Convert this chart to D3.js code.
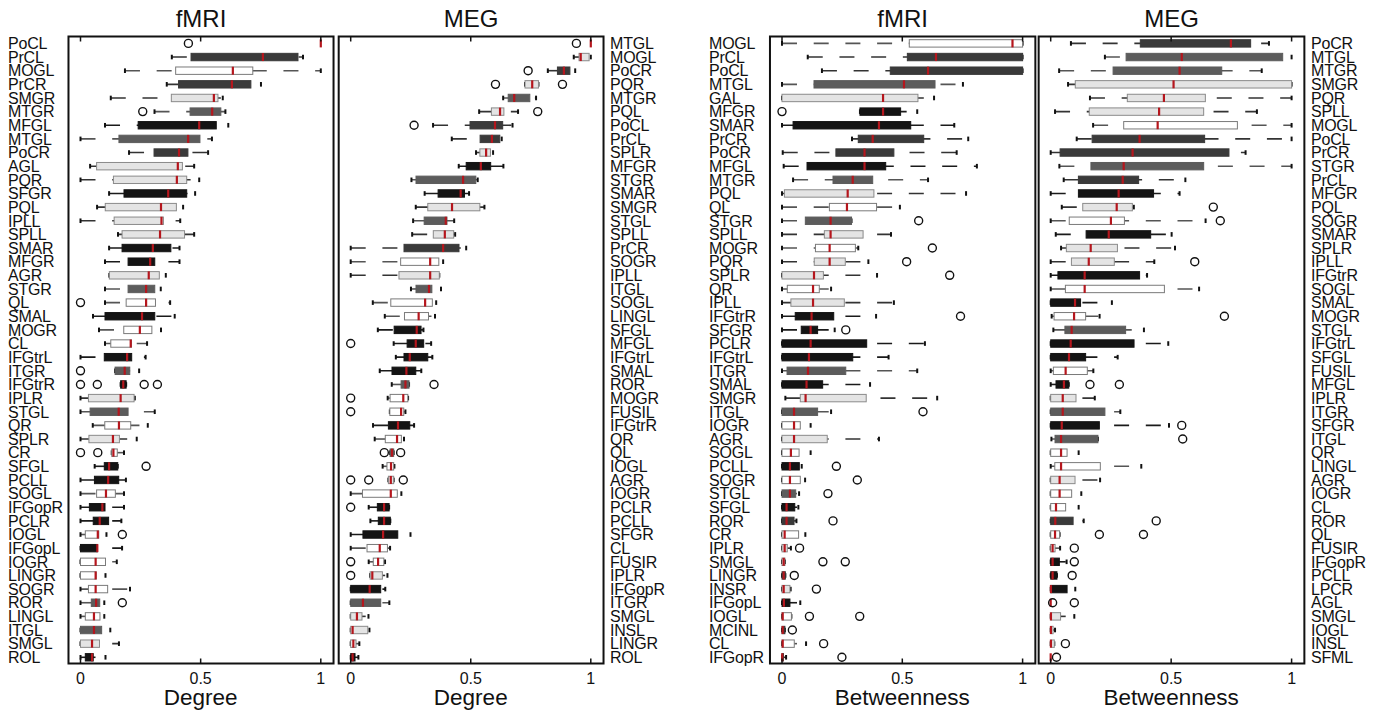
<!DOCTYPE html>
<html><head><meta charset="utf-8">
<script src="https://cdn.jsdelivr.net/npm/d3@7"></script>
<style>body{margin:0;background:#fff}text{font-family:"Liberation Sans",Arial,sans-serif;fill:#111}</style>
</head><body>
<svg id="c" width="1383" height="712"></svg>
<script>
// ---------- DATA ----------
const xTicks = [0, 0.5, 1];
const xTickLabels = ["0", "0.5", "1"];
const panelTitles = ["fMRI", "MEG", "fMRI", "MEG"];
const axisTitles = ["Degree", "Degree", "Betweenness", "Betweenness"];

// stats rows: [lower whisker, q1, median, q3, upper whisker]
const p1Labels = ["PoCL","PrCL","MOGL","PrCR","SMGR","MTGR","MFGL","MTGL","PoCR","AGL","PQR","SFGR","PQL","IPLL","SPLL","SMAR","MFGR","AGR","STGR","QL","SMAL","MOGR","CL","IFGtrL","ITGR","IFGtrR","IPLR","STGL","QR","SPLR","CR","SFGL","PCLL","SOGL","IFGopR","PCLR","IOGL","IFGopL","IOGR","LINGR","SOGR","ROR","LINGL","ITGL","SMGL","ROL"];
const p1Stats = [[1,1,1,1,1],[0.380,0.460,0.759,0.905,0.926],[0.185,0.396,0.634,0.717,1.0],[0.359,0.408,0.630,0.709,0.751],[0.126,0.378,0.555,0.572,0.592],[0.308,0.456,0.548,0.584,0.603],[0.102,0.240,0.494,0.565,0.615],[0.0,0.160,0.448,0.497,0.547],[0.202,0.306,0.410,0.447,0.531],[0.040,0.067,0.405,0.424,0.473],[0.0,0.137,0.401,0.442,0.494],[0.119,0.181,0.365,0.442,0.477],[0.069,0.103,0.335,0.399,0.427],[0.0,0.140,0.337,0.345,0.415],[0.156,0.173,0.331,0.433,0.473],[0.119,0.173,0.301,0.376,0.412],[0.102,0.198,0.290,0.309,0.412],[0.120,0.120,0.284,0.328,0.355],[0.102,0.198,0.273,0.309,0.334],[0.102,0.190,0.273,0.312,0.373],[0.052,0.102,0.256,0.309,0.392],[0.077,0.180,0.247,0.297,0.335],[0.102,0.126,0.209,0.212,0.277],[0,0.099,0.194,0.213,0.271],[0.144,0.144,0.184,0.205,0.244],[0.167,0.167,0.178,0.190,0.190],[0,0.033,0.167,0.223,0.226],[0,0.040,0.159,0.198,0.309],[0.051,0.101,0.160,0.209,0.280],[0,0.035,0.135,0.162,0.234],[0.130,0.130,0.137,0.153,0.181],[0.059,0.099,0.119,0.155,0.155],[0,0.058,0.115,0.159,0.189],[0,0.067,0.106,0.145,0.181],[0,0.037,0.091,0.102,0.181],[0,0.053,0.080,0.117,0.170],[0,0.020,0.072,0.076,0.108],[0,0,0.070,0.070,0.173],[0,0,0.063,0.104,0.151],[0,0,0.063,0.065,0.104],[0,0.033,0.063,0.113,0.206],[0,0.045,0.065,0.080,0.099],[0,0.020,0.056,0.081,0.099],[0,0,0.056,0.088,0.124],[0,0,0.048,0.079,0.160],[0,0.020,0.048,0.053,0.104]];
const p1Colors = ["k","d","w","d","l","m","k","m","d","l","l","k","l","l","l","k","k","l","m","w","k","w","w","k","m","k","l","m","w","l","w","k","k","w","k","k","w","k","w","w","w","m","w","m","l","k"];
const p1Outliers = [[0.449],[],[],[],[],[0.259],[],[],[],[],[],[],[],[],[],[],[],[],[],[0],[],[],[],[],[0],[0,0.070,0.265,0.320],[],[],[],[],[0,0.072],[0.273],[],[],[],[],[0.174],[],[],[],[],[0.174],[],[],[],[]];

const p2Labels = ["MTGL","MOGL","PoCR","PQR","MTGR","PQL","PoCL","PrCL","SPLR","MFGR","STGR","SMAR","SMGR","STGL","SPLL","PrCR","SOGR","IPLL","ITGL","SOGL","LINGL","SFGL","MFGL","IFGtrL","SMAL","ROR","MOGR","FUSIL","IFGtrR","QR","QL","IOGL","AGR","IOGR","PCLR","PCLL","SFGR","CL","FUSIR","IPLR","IFGopR","ITGR","SMGL","INSL","LINGR","ROL"];
const p2Stats = [[1,1,1,1,1],[0.929,0.951,0.958,0.993,1.0],[0.821,0.861,0.888,0.913,0.935],[0.726,0.726,0.756,0.782,0.782],[0.635,0.656,0.681,0.746,0.772],[0.535,0.586,0.622,0.638,0.697],[0.343,0.497,0.601,0.633,0.674],[0.421,0.539,0.588,0.621,0.629],[0.522,0.538,0.564,0.582,0.593],[0.450,0.481,0.542,0.583,0.636],[0.253,0.272,0.468,0.521,0.529],[0.308,0.364,0.458,0.474,0.493],[0.271,0.321,0.422,0.538,0.557],[0.260,0.306,0.396,0.401,0.431],[0.256,0.344,0.392,0.429,0.435],[0,0.222,0.385,0.451,0.481],[0,0.208,0.331,0.367,0.385],[0,0.201,0.331,0.369,0.369],[0.251,0.272,0.326,0.338,0.376],[0.092,0.167,0.310,0.340,0.356],[0.142,0.224,0.283,0.324,0.351],[0.113,0.181,0.275,0.293,0.303],[0.179,0.235,0.271,0.304,0.335],[0.188,0.222,0.246,0.321,0.340],[0.121,0.172,0.232,0.271,0.294],[0.171,0.210,0.228,0.243,0.243],[0.154,0.164,0.219,0.238,0.239],[0.163,0.163,0.210,0.221,0.228],[0.093,0.157,0.197,0.246,0.264],[0.100,0.144,0.193,0.211,0.222],[0.164,0.164,0.172,0.179,0.179],[0.133,0.151,0.168,0.179,0.182],[0.157,0.157,0.167,0.179,0.179],[0,0.049,0.167,0.194,0.211],[0.075,0.111,0.139,0.160,0.160],[0.082,0.115,0.139,0.165,0.165],[0,0.051,0.135,0.196,0.249],[0,0.068,0.121,0.153,0.164],[0.075,0.094,0.114,0.138,0.143],[0.081,0.081,0.090,0.132,0.153],[0,0,0.079,0.125,0.144],[0,0,0.051,0.125,0.161],[0,0,0.026,0.047,0.074],[0,0,0.008,0.071,0.078],[0,0,0.011,0.022,0.036],[0,0,0.008,0.018,0.032]];
const p2Colors = ["k","l","d","l","m","l","d","d","l","k","m","k","l","m","l","d","w","l","m","w","w","k","k","k","k","m","w","w","k","w","m","w","l","w","k","k","k","w","w","l","k","m","l","l","w","k"];
const p2Outliers = [[0.940],[],[0.739],[0.603,0.882],[],[0.779],[0.264],[],[],[],[],[],[],[],[],[],[],[],[],[],[],[],[0],[],[],[0.347],[0],[0],[],[],[0.140,0.208],[],[0,0.075,0.219],[],[0],[],[],[],[0],[0],[],[],[],[],[],[]];

const p3Labels = ["MOGL","PrCL","PoCL","MTGL","GAL","MFGR","SMAR","PrCR","PoCR","MFGL","MTGR","PQL","QL","STGR","SPLL","MOGR","PQR","SPLR","QR","IPLL","IFGtrR","SFGR","PCLR","IFGtrL","ITGR","SMAL","SMGR","ITGL","IOGR","AGR","SOGL","PCLL","SOGR","STGL","SFGL","ROR","CR","IPLR","SMGL","LINGR","INSR","IFGopL","IOGL","MCINL","CL","IFGopR"];
const p3Stats = [[0,0.529,0.958,1,1],[0.107,0.521,0.640,1,1],[0.166,0.450,0.607,1,1],[0,0.133,0.507,0.636,0.752],[0,0,0.420,0.565,0.632],[0.324,0.324,0.420,0.493,0.562],[0,0.046,0.403,0.535,0.716],[0.291,0.317,0.377,0.589,0.774],[0.003,0.224,0.343,0.465,0.726],[0.007,0.104,0.343,0.431,0.810],[0.046,0.212,0.294,0.377,0.607],[0,0.010,0.273,0.382,0.765],[0,0.197,0.270,0.393,0.490],[0,0.097,0.202,0.289,0.289],[0,0.176,0.202,0.337,0.453],[0,0.139,0.198,0.305,0.317],[0,0.134,0.198,0.263,0.359],[0,0,0.133,0.172,0.395],[0,0.022,0.129,0.155,0.204],[0,0.037,0.129,0.259,0.465],[0,0.055,0.123,0.215,0.391],[0,0.080,0.119,0.148,0.219],[0,0,0.119,0.352,0.594],[0,0,0.112,0.294,0.443],[0,0.021,0.108,0.265,0.562],[0,0,0.102,0.169,0.366],[0.014,0.076,0.098,0.350,0.645],[0,0,0.050,0.148,0.204],[0,0,0.050,0.076,0.119],[0,0,0.050,0.188,0.403],[0,0,0.037,0.071,0.119],[0,0,0.033,0.072,0.082],[0,0,0.033,0.076,0.096],[0,0,0.033,0.057,0.071],[0,0,0.019,0.053,0.068],[0,0,0.019,0.050,0.060],[0,0,0.011,0.069,0.097],[0,0,0.011,0.022,0.037],[0,0,0.007,0.012,0.012],[0,0,0.007,0.014,0.014],[0,0,0.007,0.033,0.036],[0,0,0.008,0.033,0.076],[0,0,0.003,0.039,0.039],[0,0,0.003,0.012,0.012],[0,0,0.003,0.051,0.100],[0,0,0.001,0.006,0.017]];
const p3Colors = ["w","d","d","m","l","k","k","d","d","k","m","l","w","m","l","w","l","l","w","l","k","k","k","k","m","k","l","m","w","l","w","k","w","m","k","d","w","l","w","d","l","k","w","d","w","d"];
const p3Outliers = [[],[],[],[],[],[0],[],[],[],[],[],[],[],[0.568],[],[0.625],[0.518],[0.697],[],[],[0.742],[0.265],[],[],[],[],[],[0.586],[],[],[],[0.226],[0.313],[0.191],[],[0.212],[],[0.073],[0.170,0.263],[0.051],[0.143],[],[0.114,0.323],[0.043],[0.173],[0.249]];

const p4Labels = ["PoCR","MTGL","MTGR","SMGR","PQR","SPLL","MOGL","PoCL","PrCR","STGR","PrCL","MFGR","PQL","SOGR","SMAR","SPLR","IPLL","IFGtrR","SOGL","SMAL","MOGR","STGL","IFGtrL","SFGL","FUSIL","MFGL","IPLR","ITGR","SFGR","ITGL","QR","LINGL","AGR","IOGR","CL","ROR","QL","FUSIR","IFGopR","PCLL","LPCR","AGL","SMGL","IOGL","INSL","SFML"];
const p4Stats = [[0.084,0.372,0.748,0.830,0.906],[0.225,0.313,0.544,0.963,1.0],[0.035,0.259,0.535,0.710,0.876],[0.072,0.102,0.510,1.0,1.0],[0.163,0.318,0.470,0.642,1.0],[0.018,0.160,0.450,0.635,0.856],[0.176,0.303,0.444,0.775,1.0],[0.108,0.172,0.369,0.639,1.0],[0,0.039,0.340,0.740,0.809],[0.036,0.167,0.303,0.635,1.0],[0.054,0.115,0.299,0.365,0.559],[0,0.115,0.282,0.427,0.535],[0.046,0.133,0.274,0.339,0.345],[0,0.077,0.250,0.306,0.643],[0.021,0.147,0.241,0.415,0.502],[0.043,0.065,0.166,0.277,0.516],[0,0.086,0.158,0.264,0.430],[0,0.030,0.141,0.369,0.400],[0,0.061,0.141,0.472,0.616],[0,0,0.101,0.124,0.254],[0.004,0.014,0.097,0.145,0.203],[0.011,0.059,0.087,0.311,0.387],[0,0,0.083,0.346,0.488],[0,0,0.076,0.145,0.278],[0,0.011,0.062,0.152,0.177],[0,0.022,0.055,0.075,0.075],[0,0,0.050,0.105,0.183],[0,0,0.050,0.225,0.289],[0,0,0.046,0.202,0.491],[0.003,0.018,0.043,0.196,0.196],[0,0,0.043,0.068,0.116],[0,0.017,0.043,0.206,0.376],[0,0,0.037,0.101,0.205],[0,0,0.037,0.087,0.127],[0,0,0.022,0.062,0.116],[0,0,0.019,0.093,0.137],[0,0,0.018,0.037,0.037],[0,0,0.008,0.018,0.039],[0,0,0.008,0.036,0.066],[0,0,0.008,0.026,0.026],[0,0,0.001,0.068,0.102],[0,0,0,0,0],[0,0,0.001,0.041,0.098],[0,0,0.001,0.010,0.018],[0,0,0.001,0.015,0.015],[0,0,0,0,0]];
const p4Colors = ["d","m","m","l","l","l","w","d","d","m","d","k","l","w","k","l","l","k","w","k","w","m","k","k","w","k","l","m","k","m","w","w","l","w","w","d","w","w","k","k","k","w","l","l","l","w"];
const p4Outliers = [[],[],[],[],[],[],[],[],[],[],[],[],[0.675],[0.704],[],[],[0.598],[],[],[],[0.721],[],[],[],[],[0.163,0.285],[],[],[0.544],[0.548],[],[],[],[],[],[0.438],[0.202,0.385],[0.098],[0.098],[0.089],[],[0.008,0.098],[],[],[0.061],[0.024]];

// ---------- STYLE / LAYOUT ----------
const fillMap = {k:"#141414", d:"#3a3a3a", m:"#5c5c5c", l:"#e4e4e4", w:"#ffffff"};
const strokeMap = {k:"#141414", d:"#3a3a3a", m:"#5c5c5c", l:"#8a8a8a", w:"#7a7a7a"};
const whiskMap = {k:"#1a1a1a", d:"#333333", m:"#555555", l:"#333333", w:"#555555"};
const RED = "#b5161d";

const panelLayout = [
  {x0:80.5, x1:320.8, labelX:8},
  {x0:350.7, x1:590.8, labelX:610},
  {x0:782.0, x1:1022.6, labelX:709},
  {x0:1050.7, x1:1291.6, labelX:1311}
];
const panelData = [
  {labels:p1Labels, stats:p1Stats, colors:p1Colors, outliers:p1Outliers},
  {labels:p2Labels, stats:p2Stats, colors:p2Colors, outliers:p2Outliers},
  {labels:p3Labels, stats:p3Stats, colors:p3Colors, outliers:p3Outliers},
  {labels:p4Labels, stats:p4Stats, colors:p4Colors, outliers:p4Outliers}
];

const frameTop = 36.5, frameBottom = 663.5;
const svg = d3.select("#c");
const boxH = 7.4;

panelData.forEach((P, pi) => {
  const L = panelLayout[pi];
  const x = d3.scaleLinear().domain([0, 1]).range([L.x0, L.x1]);
  const left = x(-0.05), right = x(1.053);
  const y = d3.scalePoint().domain(P.labels).range([43.4, 657.3]);
  const g = svg.append("g");

  g.selectAll("text.lab").data(P.labels).enter().append("text")
    .attr("x", L.labelX).attr("y", d => y(d)).attr("dy", "0.36em")
    .attr("font-size", 16).attr("letter-spacing", "-0.2px").text(d => d);

  const rows = P.labels.map((lab, i) => ({lab, s:P.stats[i], c:P.colors[i], o:P.outliers[i]}));
  const rg = g.selectAll("g.row").data(rows).enter().append("g");

  rg.filter(d => d.s[4] > d.s[0]).append("line")
    .attr("x1", d => x(d.s[0])).attr("x2", d => x(d.s[4]))
    .attr("y1", d => y(d.lab)).attr("y2", d => y(d.lab))
    .attr("stroke", d => whiskMap[d.c]).attr("stroke-width", 1.6)
    .attr("stroke-dasharray", "15,16.7");
  rg.filter(d => d.s[4] > d.s[0]).each(function(d) {
    const gg = d3.select(this);
    [d.s[0], d.s[4]].forEach(v => {
      gg.append("line").attr("x1", x(v)).attr("x2", x(v))
        .attr("y1", y(d.lab) - 2.3).attr("y2", y(d.lab) + 2.3)
        .attr("stroke", "#111").attr("stroke-width", 2);
    });
  });
  rg.filter(d => d.s[3] > d.s[1]).append("rect")
    .attr("x", d => x(d.s[1])).attr("width", d => x(d.s[3]) - x(d.s[1]))
    .attr("y", d => y(d.lab) - boxH / 2).attr("height", boxH)
    .attr("fill", d => fillMap[d.c]).attr("stroke", d => strokeMap[d.c]).attr("stroke-width", 1);
  rg.append("line")
    .attr("x1", d => x(d.s[2])).attr("x2", d => x(d.s[2]))
    .attr("y1", d => y(d.lab) - 4).attr("y2", d => y(d.lab) + 4)
    .attr("stroke", RED).attr("stroke-width", 2.2);
  rg.each(function(d) {
    d3.select(this).selectAll("circle").data(d.o).enter().append("circle")
      .attr("cx", v => x(v)).attr("cy", y(d.lab)).attr("r", 4)
      .attr("fill", "none").attr("stroke", "#111").attr("stroke-width", 1.4);
  });

  g.append("rect").attr("x", left).attr("y", frameTop).attr("width", right - left).attr("height", frameBottom - frameTop)
    .attr("fill", "none").attr("stroke", "#111").attr("stroke-width", 2);
  xTicks.forEach(t => {
    g.append("line").attr("x1", x(t)).attr("x2", x(t)).attr("y1", frameTop).attr("y2", frameTop + 5)
      .attr("stroke", "#111").attr("stroke-width", 1.5);
    g.append("line").attr("x1", x(t)).attr("x2", x(t)).attr("y1", frameBottom).attr("y2", frameBottom - 5)
      .attr("stroke", "#111").attr("stroke-width", 1.5);
  });
  g.selectAll("text.tl").data(xTicks).enter().append("text")
    .attr("x", t => x(t)).attr("y", 683.5).attr("text-anchor", "middle")
    .attr("font-size", 16).text((t, i) => xTickLabels[i]);
  g.append("text").attr("x", (x(0) + x(1)) / 2).attr("y", 705).attr("text-anchor", "middle")
    .attr("font-size", 22.5).text(axisTitles[pi]);
  g.append("text").attr("x", (left + right) / 2).attr("y", 27).attr("text-anchor", "middle")
    .attr("font-size", 24).text(panelTitles[pi]);
});
</script>
</body></html>
